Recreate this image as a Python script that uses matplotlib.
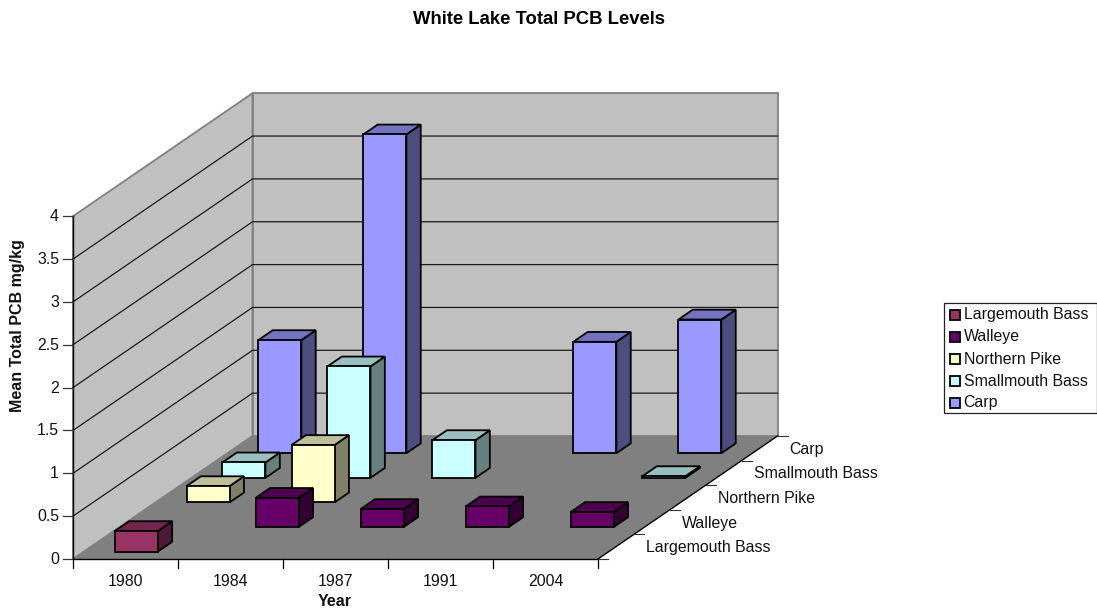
#!/usr/bin/env python3
"""White Lake total PCB levels drawn as a 3D column chart with an oblique projection."""

import numpy as np
import matplotlib
matplotlib.use("Agg")
import matplotlib.pyplot as plt
from matplotlib.patches import Polygon, Rectangle

plt.rcParams['font.family'] = ['Liberation Sans', 'DejaVu Sans']

YEARS = ["1980", "1984", "1987", "1991", "2004"]
SPECIES = ["Largemouth Bass", "Walleye", "Northern Pike", "Smallmouth Bass", "Carp"]
Z_TICKS = [0, 0.5, 1, 1.5, 2, 2.5, 3, 3.5, 4]

LARGEMOUTH = [0.24, np.nan, np.nan, np.nan, np.nan]
WALLEYE = [np.nan, 0.34, 0.21, 0.24, 0.175]
NORTHERN_PIKE = [0.19, 0.67, np.nan, np.nan, np.nan]
SMALLMOUTH = [0.18, 1.30, 0.44, np.nan, 0.02]
CARP = [1.32, 3.72, np.nan, 1.30, 1.56]
SERIES = [LARGEMOUTH, WALLEYE, NORTHERN_PIKE, SMALLMOUTH, CARP]

# front, top and side shades per species
FRONT = ["#993366", "#660066", "#FFFFCC", "#CCFFFF", "#9999FF"]
TOP = ["#73264D", "#4D004D", "#BFBF99", "#99BFBF", "#7373BF"]
SIDE = ["#4D1A33", "#330033", "#808066", "#668080", "#4D4D80"]

# Projection layout in figure pixels
ORIGIN_X, ORIGIN_Y = 73.0, 559.0
CAT_W = 105.0
DEPTH_DX, DEPTH_DY = 35.9, -24.6
Z_SCALE = 85.7
BAR_W = 43.0
BAR_DEPTH = 0.4
FONT = 11.4
BOLD_FONT = 11.5


def project(x, d, z=0.0):
    """Category position x, depth position d, value z -> pixel position."""
    return (ORIGIN_X + x * CAT_W + d * DEPTH_DX,
            ORIGIN_Y + d * DEPTH_DY - z * Z_SCALE)


def draw_bar(ax, cat, depth, value, color_i):
    half_w = BAR_W / CAT_W / 2
    x0, x1 = cat + 0.5 - half_w, cat + 0.5 + half_w
    d0, d1 = depth + 0.5 - BAR_DEPTH / 2, depth + 0.5 + BAR_DEPTH / 2
    style = dict(edgecolor="black", linewidth=1.3, joinstyle="miter", zorder=3)
    ax.add_patch(Polygon([project(x1, d0), project(x1, d1), project(x1, d1, value),
                          project(x1, d0, value)], facecolor=SIDE[color_i], **style))
    ax.add_patch(Polygon([project(x0, d0, value), project(x1, d0, value),
                          project(x1, d1, value), project(x0, d1, value)],
                         facecolor=TOP[color_i], **style))
    ax.add_patch(Polygon([project(x0, d0), project(x1, d0), project(x1, d0, value),
                          project(x0, d0, value)], facecolor=FRONT[color_i], **style))


fig = plt.figure(figsize=(10.97, 6.11), dpi=100)
ax = fig.add_axes([0, 0, 1, 1])
ax.set_xlim(0, 1097)
ax.set_ylim(611, 0)
ax.axis("off")

n_cat, n_depth = len(YEARS), len(SPECIES)
z_max = Z_TICKS[-1]

# walls and floor
ax.add_patch(Polygon([project(0, 0), project(0, n_depth), project(0, n_depth, z_max), project(0, 0, z_max)],
                     facecolor="#C0C0C0", edgecolor="#808080", linewidth=1.3, zorder=1))
ax.add_patch(Polygon([project(0, n_depth), project(n_cat, n_depth), project(n_cat, n_depth, z_max),
                      project(0, n_depth, z_max)],
                     facecolor="#C0C0C0", edgecolor="#808080", linewidth=1.3, zorder=1))
ax.add_patch(Polygon([project(0, 0), project(n_cat, 0), project(n_cat, n_depth), project(0, n_depth)],
                     facecolor="#808080", edgecolor="none", zorder=1))

# gridlines along both walls
for z in Z_TICKS[1:-1]:
    xs, ys = zip(project(0, 0, z), project(0, n_depth, z), project(n_cat, n_depth, z))
    ax.plot(xs, ys, color="#1a1a1a", linewidth=0.9, zorder=2)

# axis lines
for a, b in [(project(0, 0), project(0, 0, z_max)),
             (project(0, 0), project(n_cat, 0)),
             (project(n_cat, 0), project(n_cat, n_depth))]:
    ax.plot([a[0], b[0]], [a[1], b[1]], color="black", linewidth=1.0, zorder=2)

# value axis ticks and labels
for z in Z_TICKS:
    px, py = project(0, 0, z)
    ax.plot([px - 10, px], [py, py], color="#333333", linewidth=0.9, zorder=2)
    ax.text(px - 14, py + 0.5, f"{z:g}", ha="right", va="center", fontsize=FONT, color="#111111")

# category ticks and labels
for i in range(n_cat + 1):
    px, py = project(i, 0)
    ax.plot([px, px], [py, py + 9], color="black", linewidth=0.9, zorder=2)
for i, year in enumerate(YEARS):
    px, py = project(i + 0.5, 0)
    ax.text(px, py + 22.5, year, ha="center", va="center", fontsize=FONT, color="#111111")

# depth ticks and labels
for i in range(n_depth + 1):
    px, py = project(n_cat, i)
    ax.plot([px, px + 10], [py, py], color="#333333", linewidth=0.8, zorder=2)
for i, name in enumerate(SPECIES):
    px, py = project(n_cat, i + 0.5)
    ax.text(px + 30, py + 1, name, ha="left", va="center", fontsize=FONT, color="#111111")

# columns, back row first so the nearer ones overlap them
for depth in reversed(range(n_depth)):
    for cat, value in enumerate(SERIES[depth]):
        if not np.isnan(value):
            draw_bar(ax, cat, depth, value, depth)

ax.text(539, 19, "White Lake Total PCB Levels", ha="center", va="center",
        fontsize=13.3, fontweight="bold", color="black")
ax.text(335, 602, "Year", ha="center", va="center", fontsize=BOLD_FONT, fontweight="bold", color="#111111")
ax.text(17.5, 326, "Mean Total PCB mg/kg", ha="center", va="center", rotation=90,
        fontsize=BOLD_FONT, fontweight="bold", color="#111111")

# legend box runs to the right edge of the figure
ax.add_patch(Rectangle((943.5, 303), 153, 110, facecolor="white", edgecolor="#222222", linewidth=0.9, zorder=2))
for i, name in enumerate(SPECIES):
    y = 315 + i * 22
    ax.add_patch(Rectangle((949.5, y - 5), 10.5, 10, facecolor=FRONT[i], edgecolor="black", linewidth=1.3, zorder=3))
    ax.text(963.5, y, name, ha="left", va="center", fontsize=FONT, color="#111111", zorder=3)

fig.savefig("out.png", dpi=100)
